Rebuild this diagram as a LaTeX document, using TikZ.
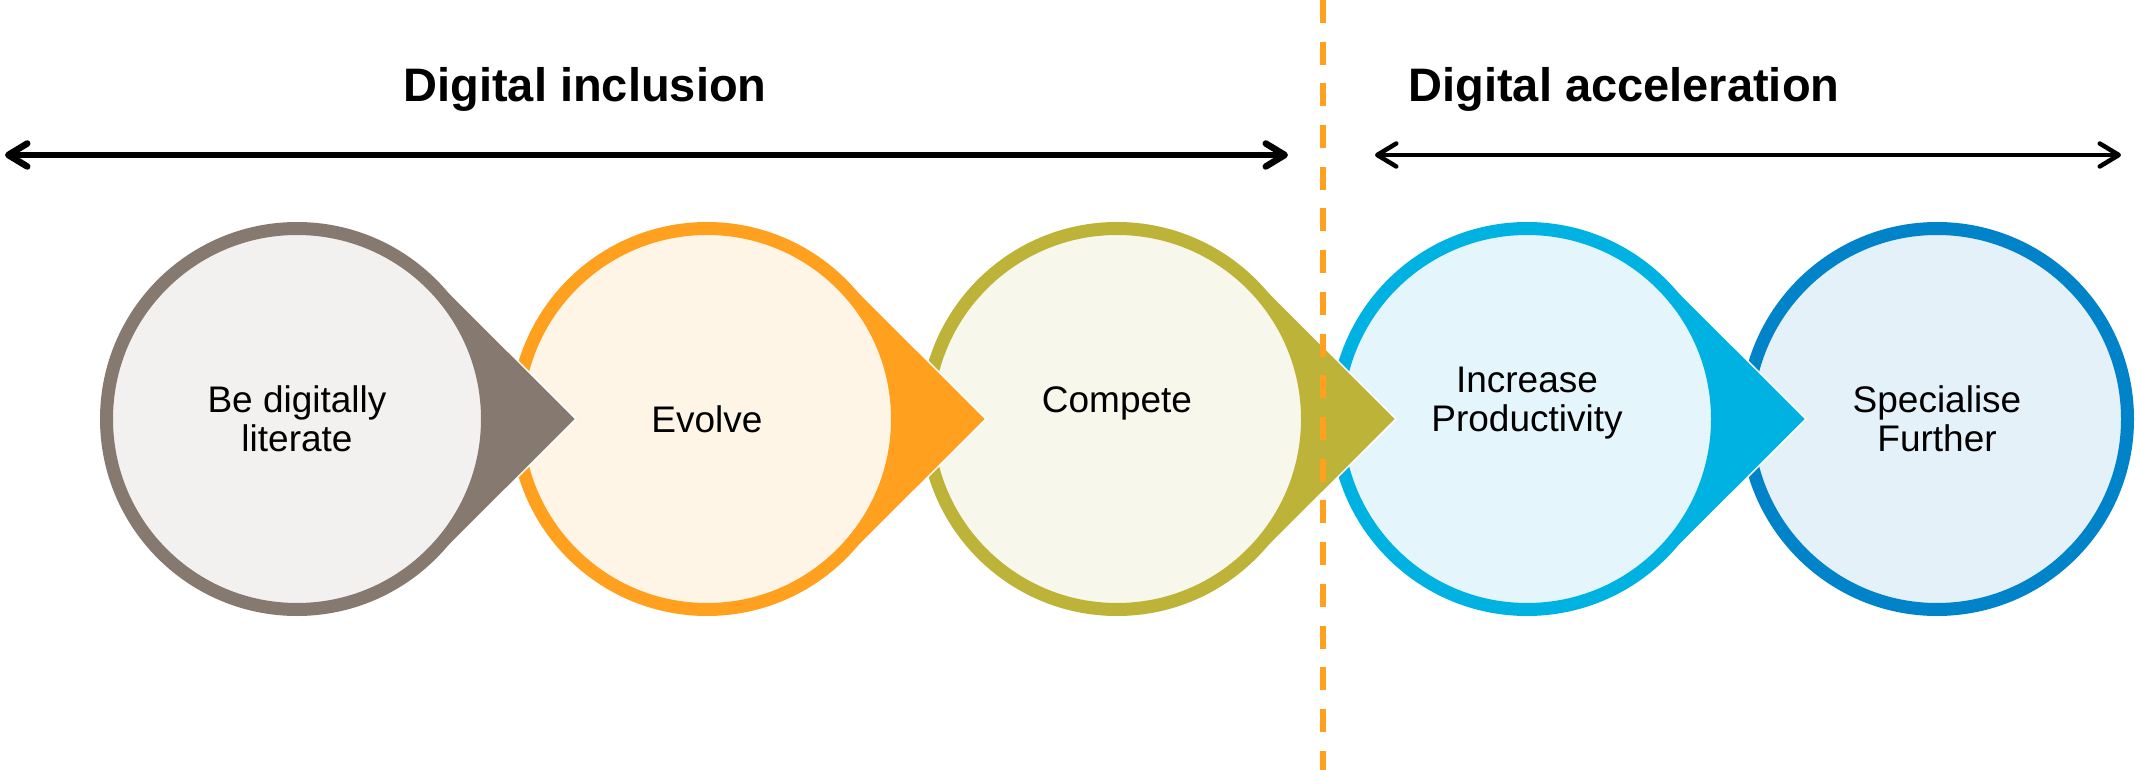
\documentclass[tikz,border=0pt]{standalone}
\usepackage{fontspec}
\setmainfont{Liberation Sans}
\usetikzlibrary{arrows.meta,calc,positioning}
\definecolor{greyring}{HTML}{857970}
\definecolor{greyfill}{HTML}{F2F1EF}
\definecolor{orangering}{HTML}{FFA01E}
\definecolor{orangefill}{HTML}{FEF5E7}
\definecolor{olivering}{HTML}{BCB338}
\definecolor{olivefill}{HTML}{F8F7EB}
\definecolor{cyanring}{HTML}{00B2E2}
\definecolor{cyanfill}{HTML}{E4F6FC}
\definecolor{bluering}{HTML}{0083C9}
\definecolor{bluefill}{HTML}{E4F1F9}

\begin{document}
\begin{tikzpicture}[x=1pt,y=1pt,node distance=410pt]
\tikzstyle{stage}=[circle, inner sep=0pt, outer sep=0pt,
	line width=13pt, minimum size=381pt, align=center,
	font=\fontsize{37}{39}\selectfont
]
\tikzstyle{stagetip}=[draw=white, line width=1.5pt, line join=miter]
\tikzstyle{heading}=[anchor=base, font=\bfseries\fontsize{47}{56}\selectfont]
\tikzstyle{barb}=[{Straight Barb[length=19pt,width=23pt,round]}-{Straight Barb[length=19pt,width=23pt,round]}]
\tikzstyle{divider}=[draw=orangering, line width=6pt, dash pattern=on 23pt off 18.7pt]
\useasboundingbox (0,0) rectangle (2136,-770);
% stages, drawn from right to left
\coordinate (pe) at (1937,-419);
\node[stage, draw=bluering, fill=bluefill] (e) at (pe) {Specialise\\Further};
\coordinate[left of = pe] (pd);
\coordinate[left of = pd] (pc);
\coordinate[left of = pc] (pb);
\coordinate[left of = pb] (pa);
\path[fill=cyanring, stagetip] ($(pd)+(45:197pt)$) -- ($(pd)+(279pt,0)$) -- ($(pd)+(-45:197pt)$) -- cycle;
\node[stage, draw=cyanring, fill=cyanfill] (d) at (pd) {Increase\\Productivity\\\mbox{}};
\path[fill=olivering, stagetip] ($(pc)+(45:197pt)$) -- ($(pc)+(279pt,0)$) -- ($(pc)+(-45:197pt)$) -- cycle;
\node[stage, draw=olivering, fill=olivefill] (c) at (pc) {Compete\\\mbox{}};
\path[fill=orangering, stagetip] ($(pb)+(45:197pt)$) -- ($(pb)+(279pt,0)$) -- ($(pb)+(-45:197pt)$) -- cycle;
\node[stage, draw=orangering, fill=orangefill] (b) at (pb) {Evolve};
\path[fill=greyring, stagetip] ($(pa)+(45:197pt)$) -- ($(pa)+(279pt,0)$) -- ($(pa)+(-45:197pt)$) -- cycle;
\node[stage, draw=greyring, fill=greyfill] (a) at (pa) {Be digitally\\literate};
% headings and spans
\node[heading] (incl) at (585,-102) {Digital inclusion};
\node[heading] (accel) at (1624,-102) {Digital acceleration};
\coordinate (il) at (5,-155);
\coordinate (ir) at (1288,-155);
\coordinate (al) at (1375,-155);
\coordinate (ar) at (2121,-155);
\path (il) edge[barb, line width=6.5pt] (ir) ;
\path (al) edge[barb, line width=4.5pt] (ar) ;
% divider
\coordinate (dtop) at (1323,0);
\coordinate (dbot) at (1323,-770);
\path[divider] (dtop) -- (dbot);
\end{tikzpicture}
\end{document}
